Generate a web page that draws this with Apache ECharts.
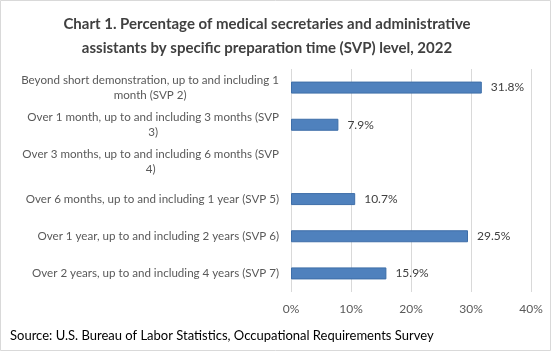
<!DOCTYPE html>
<html lang="en">
<head>
    <meta charset="UTF-8">
    <title>Chart 1</title>
    <script src="https://cdn.jsdelivr.net/npm/echarts@6/dist/echarts.min.js"></script>
    <style>
        html, body { margin: 0; padding: 0; background: #fff; }
        #main { width: 551px; height: 351px; }
    </style>
</head>
<body>
    <div id="main"></div>
    <script>
        // SVP levels, top to bottom (line breaks follow the original wrapping)
        var categories = [
            'Beyond short demonstration, up to and including 1\nmonth (SVP 2)',
            'Over 1 month, up to and including 3 months (SVP\n3)',
            'Over 3 months, up to and including 6 months (SVP\n4)',
            'Over 6 months, up to and including 1 year (SVP 5)',
            'Over 1 year, up to and including 2 years (SVP 6)',
            'Over 2 years, up to and including 4 years (SVP 7)'
        ]
        // percent of workers, SVP 4 has no published value
        var values = [31.8, 7.9, null, 10.7, 29.5, 15.9]
        var xTicks = [0, 10, 20, 30, 40]

        var font = 'Lato'
        var chart = echarts.init(document.getElementById('main'))

        var option = {
            backgroundColor: '#fff',
            animation: false,
            title: {
                text: 'Chart 1. Percentage of medical secretaries and administrative\nassistants by specific preparation time (SVP) level, 2022',
                left: 262,
                top: 7,
                textAlign: 'center',
                textStyle: {
                    fontFamily: font,
                    fontSize: 15,
                    fontWeight: 'bold',
                    color: '#404040',
                    lineHeight: 24
                }
            },
            graphic: [{
                type: 'rect',
                shape: { x: 0.5, y: 0.5, width: 550, height: 350 },
                style: { fill: 'none', stroke: '#d9d9d9', lineWidth: 1 },
                silent: true
            }, {
                type: 'text',
                left: 10,
                top: 329,
                style: {
                    text: 'Source: U.S. Bureau of Labor Statistics, Occupational Requirements Survey',
                    fontFamily: font,
                    fontSize: 13,
                    fill: '#000'
                }
            }],
            grid: {
                left: 291,
                right: 20,
                top: 69,
                bottom: 59
            },
            xAxis: {
                type: 'value',
                min: xTicks[0],
                max: xTicks[xTicks.length - 1],
                interval: 10,
                axisLine: { show: false },
                axisTick: { show: false },
                splitLine: { lineStyle: { color: '#d9d9d9', width: 1 } },
                axisLabel: {
                    formatter: '{value}%',
                    fontFamily: font,
                    fontSize: 12,
                    color: '#595959',
                    margin: 11
                }
            },
            yAxis: {
                type: 'category',
                data: categories,
                inverse: true,
                axisLine: { show: false },
                axisTick: { show: false },
                axisLabel: {
                    margin: 12,
                    lineHeight: 15,
                    formatter: function (v) {
                        // centre each line inside the label box, like the original
                        return v.split('\n').map(function (s) { return '{c|' + s + '}' }).join('\n')
                    },
                    rich: {
                        c: {
                            align: 'center',
                            fontFamily: font,
                            fontSize: 11.6,
                            color: '#595959',
                            lineHeight: 15
                        }
                    }
                }
            },
            series: [{
                type: 'bar',
                data: values,
                barWidth: 12,
                itemStyle: {
                    color: '#4f81bd',
                    borderColor: '#3e6ea8',
                    borderWidth: 1
                },
                label: {
                    show: true,
                    position: 'right',
                    distance: 9,
                    formatter: function (p) { return p.value == null ? '' : p.value.toFixed(1) + '%' },
                    fontFamily: font,
                    fontSize: 12,
                    color: '#404040'
                }
            }]
        }
        chart.setOption(option)
    </script>
</body>
</html>
